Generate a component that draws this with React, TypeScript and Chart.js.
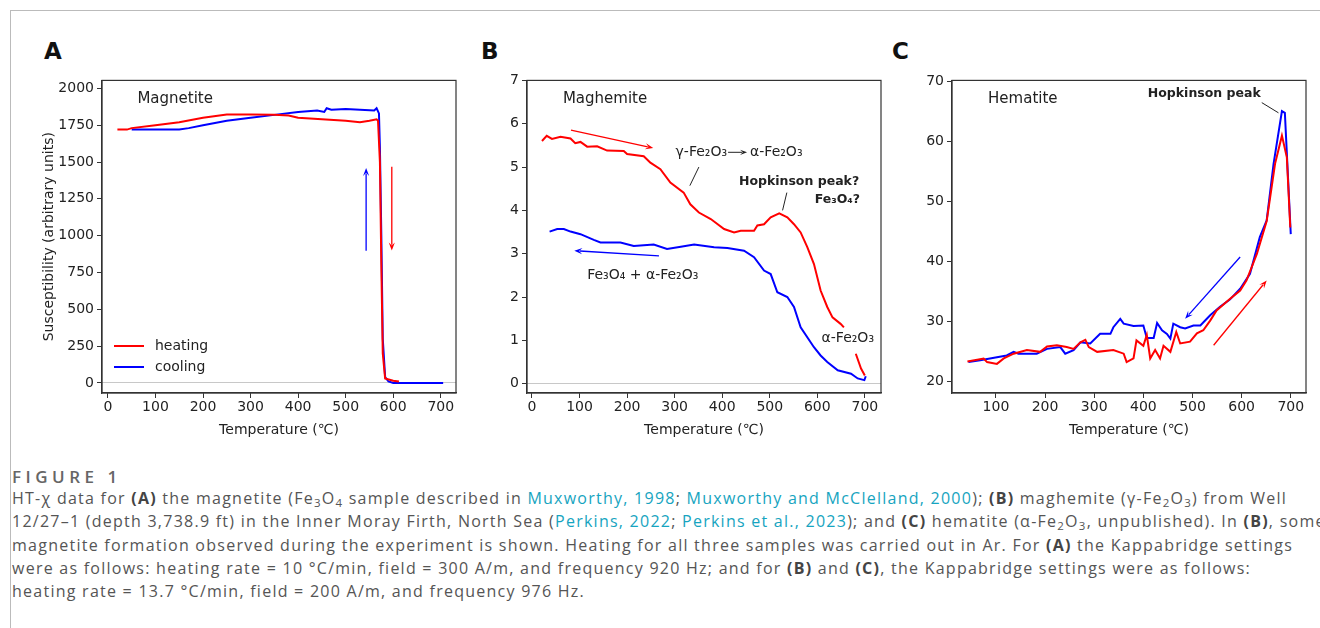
import React, { useEffect, useRef } from "react";
import { Chart, registerables } from "chart.js";
Chart.register(...registerables);

// ---- Panel A: Magnetite ----
const magHeatT = [20, 40, 50, 100, 150, 200, 250, 300, 350, 380, 400, 450, 500, 530, 550, 565, 568, 572, 575, 578, 583, 600, 612];
const magHeatK = [1720, 1720, 1730, 1750, 1770, 1800, 1822, 1822, 1820, 1815, 1800, 1790, 1780, 1770, 1780, 1790, 1780, 1500, 800, 200, 30, 15, 10];
const magCoolT = [705, 650, 600, 590, 583, 578, 575, 572, 570, 565, 560, 500, 470, 460, 455, 440, 400, 350, 300, 250, 200, 170, 150, 50];
const magCoolK = [0, 0, 0, 10, 40, 300, 1000, 1600, 1830, 1865, 1850, 1860, 1855, 1865, 1840, 1850, 1840, 1820, 1800, 1780, 1750, 1730, 1720, 1720];
const magYTicks = [0, 250, 500, 750, 1000, 1250, 1500, 1750, 2000];
const xTicks = [0, 100, 200, 300, 400, 500, 600, 700];

// ---- Panel B: Maghemite ----
const mghHeatT = [21, 31, 42, 60, 81, 91, 102, 116, 137, 158, 193, 200, 235, 249, 270, 291, 319, 333, 351, 376, 404, 425, 439, 467, 474, 488, 502, 520, 537, 551, 565, 579, 593, 607, 621, 632, 649, 656, 668, 681, 692, 700];
const mghHeatK = [5.6, 5.72, 5.65, 5.7, 5.66, 5.55, 5.58, 5.47, 5.48, 5.38, 5.37, 5.3, 5.25, 5.1, 4.95, 4.64, 4.41, 4.14, 3.95, 3.8, 3.57, 3.49, 3.53, 3.53, 3.65, 3.68, 3.84, 3.93, 3.84, 3.68, 3.49, 3.15, 2.76, 2.15, 1.77, 1.53, 1.38, 1.3, null, 0.69, 0.35, 0.19];
const mghCoolT = [702, 699, 685, 671, 643, 621, 607, 593, 565, 551, 537, 516, 502, 488, 467, 446, 411, 383, 341, 313, 284, 256, 214, 186, 144, 130, 102, 81, 67, 53, 37];
const mghCoolK = [0.17, 0.08, 0.12, 0.23, 0.31, 0.5, 0.65, 0.84, 1.3, 1.77, 2.0, 2.11, 2.53, 2.61, 2.92, 3.07, 3.13, 3.15, 3.21, 3.16, 3.11, 3.21, 3.18, 3.26, 3.26, 3.32, 3.45, 3.51, 3.57, 3.57, 3.51];
const mghYTicks = [0, 1, 2, 3, 4, 5, 6, 7];

// ---- Panel C: Hematite ----
const hemHeatT = [42, 75, 82, 102, 116, 136, 163, 190, 204, 224, 244, 258, 272, 282, 289, 306, 339, 360, 366, 380, 386, 400, 407, 414, 424, 434, 441, 455, 467, 475, 495, 509, 522, 536, 549, 576, 597, 610, 631, 651, 668, 682, 692, 699];
const hemHeatK = [23.3, 23.8, 23.2, 22.9, 23.8, 24.6, 25.2, 24.9, 25.8, 26.0, 25.7, 25.4, 26.5, 26.9, 25.7, 24.9, 25.2, 24.6, 23.2, 23.8, 26.8, 25.9, 27.7, 23.8, 25.2, 23.8, 25.9, 24.9, 28.2, 26.3, 26.6, 28.0, 28.5, 30.1, 31.8, 33.7, 35.1, 36.8, 41.2, 46.7, 56.2, 60.9, 57.3, 45.6];
const hemCoolT = [700, 688, 682, 665, 651, 637, 617, 597, 576, 556, 536, 516, 502, 485, 475, 461, 455, 448, 438, 428, 421, 407, 400, 380, 360, 353, 339, 333, 312, 292, 272, 258, 241, 231, 204, 183, 163, 146, 136, 122, 102, 68, 44];
const hemCoolK = [44.5, 64.7, 65.0, 56.2, 46.8, 44.0, 37.9, 35.4, 33.6, 32.4, 31.0, 29.3, 29.3, 28.8, 29.0, 29.6, 27.1, 27.9, 28.5, 29.7, 27.2, 27.2, 29.3, 29.2, 29.6, 30.4, 29.0, 27.9, 27.9, 26.3, 26.5, 25.2, 24.6, 25.7, 25.4, 24.6, 24.6, 24.6, 24.9, 24.3, 24.0, 23.5, 23.2];
const hemYTicks = [20, 30, 40, 50, 60, 70];
const hemXTicks = [100, 200, 300, 400, 500, 600, 700];

const RED = "#ff0000";
const BLUE = "#0000ff";
const TXT = "#222";
const FONT = "'DejaVu Sans', sans-serif";

type Ann =
  | { kind: "arrow"; x1: number; y1: number; x2: number; y2: number; color: string }
  | { kind: "line"; x1: number; y1: number; x2: number; y2: number; color: string }
  | { kind: "react"; x: number; y: number; a: string; b: string }
  | { kind: "text"; x: number; y: number; text: string; align: CanvasTextAlign; bold?: boolean; size?: number };

const annA: Ann[] = [
  { kind: "text", x: 62, y: 1925, text: "Magnetite", align: "left", size: 15 },
  { kind: "arrow", x1: 543, y1: 898, x2: 543, y2: 1460, color: BLUE },
  { kind: "arrow", x1: 597, y1: 1467, x2: 597, y2: 900, color: RED },
];
const annB: Ann[] = [
  { kind: "text", x: 65, y: 6.56, text: "Maghemite", align: "left", size: 15 },
  { kind: "arrow", x1: 82, y1: 5.85, x2: 255, y2: 5.44, color: RED },
  { kind: "arrow", x1: 267, y1: 2.95, x2: 89, y2: 3.07, color: BLUE },
  { kind: "react", x: 302, y: 5.34, a: "γ-Fe₂O₃", b: "α-Fe₂O₃" },
  { kind: "line", x1: 351, y1: 5.0, x2: 332, y2: 4.57, color: "#222" },
  { kind: "text", x: 688, y: 4.67, text: "Hopkinson peak?", align: "right", bold: true, size: 12.5 },
  { kind: "text", x: 690, y: 4.24, text: "Fe₃O₄?", align: "right", bold: true, size: 12.5 },
  { kind: "line", x1: 536, y1: 4.41, x2: 527, y2: 4.0, color: "#222" },
  { kind: "text", x: 116, y: 2.49, text: "Fe₃O₄ + α-Fe₂O₃", align: "left", size: 14 },
  { kind: "text", x: 609, y: 1.04, text: "α-Fe₂O₃", align: "left", size: 14 },
];
const annC: Ann[] = [
  { kind: "text", x: 84, y: 67.0, text: "Hematite", align: "left", size: 15 },
  { kind: "arrow", x1: 597, y1: 40.7, x2: 485, y2: 30.4, color: BLUE },
  { kind: "arrow", x1: 543, y1: 26.0, x2: 651, y2: 36.8, color: RED },
  { kind: "text", x: 524, y: 67.8, text: "Hopkinson peak", align: "center", bold: true, size: 12.5 },
  { kind: "line", x1: 641, y1: 66.4, x2: 675, y2: 64.7, color: "#222" },
];

function drawArrow(ctx: CanvasRenderingContext2D, x1: number, y1: number, x2: number, y2: number, color: string, hl: number, lw: number) {
  const ang = Math.atan2(y2 - y1, x2 - x1);
  ctx.strokeStyle = color;
  ctx.fillStyle = color;
  ctx.lineWidth = lw;
  ctx.beginPath();
  ctx.moveTo(x1, y1);
  ctx.lineTo(x2 - Math.cos(ang) * hl * 0.7, y2 - Math.sin(ang) * hl * 0.7);
  ctx.stroke();
  if (hl > 0) {
    const w = hl * 0.38;
    ctx.beginPath();
    ctx.moveTo(x2, y2);
    ctx.lineTo(x2 - hl * Math.cos(ang) + w * Math.sin(ang), y2 - hl * Math.sin(ang) - w * Math.cos(ang));
    ctx.lineTo(x2 - hl * 0.6 * Math.cos(ang), y2 - hl * 0.6 * Math.sin(ang));
    ctx.lineTo(x2 - hl * Math.cos(ang) - w * Math.sin(ang), y2 - hl * Math.sin(ang) + w * Math.cos(ang));
    ctx.closePath();
    ctx.fill();
  }
}

const annPlugin = {
  id: "ann",
  afterDatasetsDraw(chart: any) {
    const o = chart.options.plugins.ann;
    const { ctx, chartArea: ca } = chart;
    const xs = chart.scales.x, ys = chart.scales.y;
    ctx.save();
    ctx.strokeStyle = "#333";
    ctx.lineWidth = 1.2;
    ctx.strokeRect(ca.left, ca.top, ca.right - ca.left, ca.bottom - ca.top);
    for (const a of o.items as Ann[]) {
      if (a.kind === "text") {
        ctx.fillStyle = TXT;
        ctx.font = `${a.bold ? "bold " : ""}${a.size || 14}px ${FONT}`;
        ctx.textAlign = a.align;
        ctx.textBaseline = "middle";
        ctx.fillText(a.text, xs.getPixelForValue(a.x), ys.getPixelForValue(a.y));
      } else if (a.kind === "react") {
        ctx.fillStyle = TXT;
        ctx.font = `14px ${FONT}`;
        ctx.textAlign = "left";
        ctx.textBaseline = "middle";
        const px = xs.getPixelForValue(a.x), py = ys.getPixelForValue(a.y);
        ctx.fillText(a.a, px, py);
        const w = ctx.measureText(a.a).width;
        drawArrow(ctx, px + w + 1, py, px + w + 20, py, "#222", 7, 1);
        ctx.fillStyle = TXT;
        ctx.fillText(a.b, px + w + 23, py);
      } else {
        const x1 = xs.getPixelForValue(a.x1), y1 = ys.getPixelForValue(a.y1);
        const x2 = xs.getPixelForValue(a.x2), y2 = ys.getPixelForValue(a.y2);
        drawArrow(ctx, x1, y1, x2, y2, a.color, a.kind === "arrow" ? 8 : 0, a.kind === "arrow" ? 1.3 : 1);
      }
    }
    if (o.legend) {
      const rows = [["heating", RED, 47], ["cooling", BLUE, 26]] as const;
      for (const [t, c, dy] of rows) {
        const y = ca.bottom - dy;
        ctx.strokeStyle = c;
        ctx.lineWidth = 2;
        ctx.beginPath();
        ctx.moveTo(ca.left + 12, y);
        ctx.lineTo(ca.left + 42, y);
        ctx.stroke();
        ctx.fillStyle = TXT;
        ctx.font = `14px ${FONT}`;
        ctx.textAlign = "left";
        ctx.textBaseline = "middle";
        ctx.fillText(t, ca.left + 53, y);
      }
    }
    ctx.restore();
  },
};

function pts(t: number[], k: (number | null)[]) {
  return t.map((v, i) => ({ x: v, y: k[i] }));
}

interface PanelProps {
  left: number; top: number; width: number; height: number; yW: number;
  heat: { x: number; y: number | null }[]; cool: { x: number; y: number | null }[];
  xMin: number; xMax: number; yMin: number; yMax: number;
  xT: number[]; yT: number[]; yTitle?: string; zero: boolean; items: Ann[]; legend?: boolean;
}

function Panel(p: PanelProps) {
  const ref = useRef<HTMLCanvasElement>(null);
  useEffect(() => {
    const tickFont = { family: FONT, size: 14 };
    const chart = new Chart(ref.current!, {
      type: "line",
      data: {
        datasets: [
          { data: p.heat as any, borderColor: RED, borderWidth: 2, pointRadius: 0, tension: 0, spanGaps: false },
          { data: p.cool as any, borderColor: BLUE, borderWidth: 2, pointRadius: 0, tension: 0 },
        ],
      },
      options: {
        animation: false,
        responsive: false,
        events: [],
        layout: { padding: { top: 10, right: 10, left: 0, bottom: 0 } },
        plugins: { legend: { display: false }, tooltip: { enabled: false }, ann: { items: p.items, legend: p.legend } } as any,
        scales: {
          x: {
            type: "linear", min: p.xMin, max: p.xMax,
            afterBuildTicks: (s: any) => { s.ticks = p.xT.map((v) => ({ value: v })); },
            afterFit: (s: any) => { s.height = 50; },
            grid: { drawOnChartArea: false, color: "#333", tickLength: 5 },
            border: { color: "#333", width: 1.2 },
            ticks: { font: tickFont, color: TXT, maxRotation: 0, padding: 1, callback: (v: any) => String(v) },
            title: { display: true, text: "Temperature (℃)", font: tickFont, color: TXT, padding: { top: 0, bottom: 4 } },
          },
          y: {
            type: "linear", min: p.yMin, max: p.yMax,
            afterBuildTicks: (s: any) => { s.ticks = p.yT.map((v) => ({ value: v })); },
            afterFit: (s: any) => { s.width = p.yW; },
            grid: {
              color: (c: any) => (p.zero && c.tick && c.tick.value === 0 ? "#c8c8c8" : "rgba(0,0,0,0)"),
              tickColor: "#333", tickLength: 5,
            },
            border: { color: "#333", width: 1.2 },
            ticks: { font: tickFont, color: TXT, padding: 3, callback: (v: any) => String(v) },
            title: { display: !!p.yTitle, text: p.yTitle || "", font: tickFont, color: TXT, padding: 0 },
          },
        },
      },
      plugins: [annPlugin],
    });
    return () => chart.destroy();
  }, []);
  return (
    <canvas
      ref={ref}
      width={p.width}
      height={p.height}
      style={{ position: "absolute", left: p.left, top: p.top, width: p.width, height: p.height }}
    />
  );
}

const letter = (x: number): React.CSSProperties => ({
  position: "absolute", left: x, top: 38, font: `bold 23px ${FONT}`, color: "#111",
});

const subS: React.CSSProperties = { fontSize: "11.5px", lineHeight: 0, verticalAlign: "-3px" };

export default function App() {
  useEffect(() => { document.body.style.margin = "0"; }, []);
  const cap: React.CSSProperties = {
    position: "absolute", left: 12, top: 487, width: 1308, overflow: "hidden", whiteSpace: "nowrap",
    font: "16px 'Open Sans', sans-serif", letterSpacing: "1.25px", color: "#555", lineHeight: "23.3px",
  };
  const link = { color: "#16a4c0" };
  const b = { fontWeight: 700 as const, color: "#444" };
  const S = (t: string) => <sub style={subS}>{t}</sub>;
  return (
    <div style={{ position: "fixed", left: 0, top: 0, width: 1320, height: 628, background: "#fff", overflow: "hidden" }}>
      <div style={{ position: "absolute", left: 10, top: 10, width: 1310, height: 1, background: "#bbb" }} />
      <div style={{ position: "absolute", left: 10, top: 10, width: 1, height: 618, background: "#bbb" }} />
      <div style={letter(44)}>A</div>
      <div style={letter(481)}>B</div>
      <div style={letter(892)}>C</div>
      <Panel left={41} top={69} width={425} height={374} yW={61}
        heat={pts(magHeatT, magHeatK)} cool={pts(magCoolT, magCoolK)}
        xMin={-12.4} xMax={732} yMin={-68} yMax={2054} xT={xTicks} yT={magYTicks}
        yTitle="Susceptibility (arbitrary units)" zero={true} items={annA} legend={true} />
      <Panel left={477} top={69} width={414} height={374} yW={50}
        heat={pts(mghHeatT, mghHeatK)} cool={pts(mghCoolT, mghCoolK)}
        xMin={-10.5} xMax={734} yMin={-0.216} yMax={7} xT={xTicks} yT={mghYTicks}
        zero={true} items={annB} />
      <Panel left={902} top={69} width={414} height={374} yW={50}
        heat={pts(hemHeatT, hemHeatK)} cool={pts(hemCoolT, hemCoolK)}
        xMin={10.6} xMax={731} yMin={18.05} yMax={70.1} xT={hemXTicks} yT={hemYTicks}
        zero={false} items={annC} />
      <div style={{ position: "absolute", left: 12, top: 465, font: "600 17px 'Open Sans', sans-serif", letterSpacing: "4.5px", color: "#666" }}>FIGURE 1</div>
      <div style={cap}>
        <div>HT-χ data for <span style={b}>(A)</span> the magnetite (Fe{S("3")}O{S("4")} sample described in <span style={link}>Muxworthy, 1998</span>; <span style={link}>Muxworthy and McClelland, 2000</span>); <span style={b}>(B)</span> maghemite (γ-Fe{S("2")}O{S("3")}) from Well</div>
        <div>12/27–1 (depth 3,738.9 ft) in the Inner Moray Firth, North Sea (<span style={link}>Perkins, 2022</span>; <span style={link}>Perkins et al., 2023</span>); and <span style={b}>(C)</span> hematite (α-Fe{S("2")}O{S("3")}, unpublished). In <span style={b}>(B)</span>, some</div>
        <div>magnetite formation observed during the experiment is shown. Heating for all three samples was carried out in Ar. For <span style={b}>(A)</span> the Kappabridge settings</div>
        <div>were as follows: heating rate = 10 °C/min, field = 300 A/m, and frequency 920 Hz; and for <span style={b}>(B)</span> and <span style={b}>(C)</span>, the Kappabridge settings were as follows:</div>
        <div>heating rate = 13.7 °C/min, field = 200 A/m, and frequency 976 Hz.</div>
      </div>
    </div>
  );
}
